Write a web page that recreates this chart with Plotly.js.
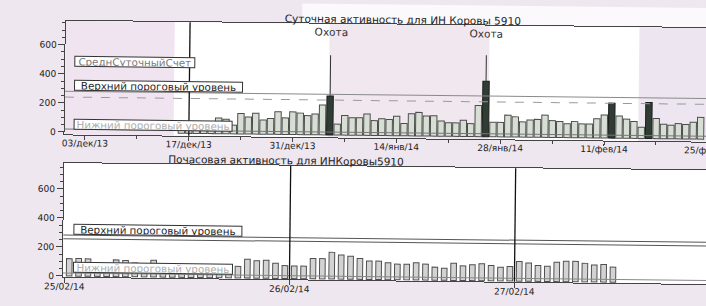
<!DOCTYPE html>
<html><head><meta charset="utf-8">
<script src="https://cdn.plot.ly/plotly-3.0.1.min.js"></script>
<style>
html,body{margin:0;padding:0;background:#efe7ef;overflow:hidden;width:706px;height:306px;}
#chart{width:760px;height:306px;transform:rotate(0.65deg);transform-origin:0 0;}
</style></head><body><div id="chart"></div>
<script>
// ---- daily activity (top chart) ----
const dailyStart = '2013-12-16';
const dailyValues = [40,42,40,44,45,108,100,60,
  141,117,143,98,108,155,114,156,148,131,143,205,268,75,135,120,121,147,102,116,111,134,85,152,162,138,
  140,105,93,93,111,89,214,382,100,100,150,139,105,118,123,153,116,111,96,111,96,96,132,159,241,153,132,116,77,248,
  139,100,93,105,100,116,150];
const heatDates = ['2014-01-05','2014-01-26','2014-02-12','2014-02-17'];
const whiskerDates = ['2014-01-05','2014-01-26'];
const whiskerLow = [268,382];
const whiskerHigh = [548,560];
const huntDates = ['2014-01-05','2014-01-26'];
const huntText = ['Охота','Охота'];
const dailyTickVals = ['2013-12-03','2013-12-17','2013-12-31','2014-01-14','2014-01-28','2014-02-11','2014-02-25'];
const dailyTickText = ['03/дек/13','17/дек/13','31/дек/13','14/янв/14','28/янв/14','11/фев/14','25/фев/14'];
const dailyMarkerDate = '2013-12-17';
const dailyUpper = 280, dailyMean = 240, dailyLower = 20;

// ---- hourly activity (bottom chart) ----
const hourlyStart = '2014-02-25 00:30';
const hourlyValues = [120,122,120,92,90,115,112,95,90,115,90,88,85,88,90,86,85,82,
  80,130,120,124,104,89,87,87,140,140,184,166,158,144,127,127,117,108,108,119,110,90,83,118,101,109,117,106,95,101,
  136,126,109,105,133,141,141,128,117,122,104];
const hourlyTickVals = ['2014-02-25','2014-02-26','2014-02-27'];
const hourlyTickText = ['25/02/14','26/02/14','27/02/14'];
const hourlyMarkerDates = ['2014-02-26','2014-02-27'];
const hourlyUpper = 282, hourlyMean = 257, hourlyLower = 20;

const yTickVals = [0,200,400,600];

const DAY = 86400000, HOUR = 3600000;
function dayStr(i){ return new Date(Date.parse(dailyStart+'T00:00:00Z') + i*DAY).toISOString().slice(0,10); }
const barColors = dailyValues.map((v,i)=> heatDates.includes(dayStr(i)) ? '#2f3d34' : '#d7dfd5');
const barLines = dailyValues.map((v,i)=> heatDates.includes(dayStr(i)) ? '#1e1e1e' : '#4d4d4d');

const wx=[], wy=[];
whiskerDates.forEach((d,i)=>{ wx.push(d,d,null); wy.push(whiskerLow[i],whiskerHigh[i],null); });

const traces = [
  {type:'bar', x0:dailyStart, dx:DAY, y:dailyValues, width:0.86*DAY, xaxis:'x', yaxis:'y',
   marker:{color:barColors, line:{color:barLines, width:1}}, hoverinfo:'skip'},
  {type:'scatter', mode:'lines', x:wx, y:wy, xaxis:'x', yaxis:'y', line:{color:'#333', width:1}, hoverinfo:'skip'},
  {type:'bar', x0:hourlyStart, dx:HOUR, y:hourlyValues, width:0.6*HOUR, xaxis:'x2', yaxis:'y2',
   marker:{color:'#d3d3d3', line:{color:'#505050', width:1}}, hoverinfo:'skip'}
];

const axisCommon = {showgrid:false, zeroline:false, showline:true, linecolor:'#444', linewidth:1, mirror:true,
  ticks:'outside', tickcolor:'#444', tickfont:{family:'DejaVu Sans', size:9, color:'#1a1a1a'}};

function hline(xr, yr, v, color, dash){
  return {type:'line', xref:xr+' domain', yref:yr, x0:0, x1:1, y0:v, y1:v, line:{color:color, width:1, dash:dash||'solid'}, layer:'above'};
}
function vline(xr, yr, d){
  return {type:'line', xref:xr, yref:yr+' domain', x0:d, x1:d, y0:0, y1:1, line:{color:'#111', width:1.3}, layer:'above'};
}
function band(x0,x1,c){
  return {type:'rect', xref:'paper', yref:'paper', x0:x0, x1:x1, y0:0.556, y1:1, fillcolor:c, line:{width:0}, layer:'below'};
}

const shapes = [
  {type:'rect', xref:'paper', yref:'paper', x0:0.35, x1:1.1, y0:1, y1:1.1, fillcolor:'#fbf9fb', line:{width:0}, layer:'below'},
  band(0,0.1615,'#efe4f0'), band(0.391,0.628,'#f0e7ef'), band(0.85,1,'#ede6f1'),
  hline('x','y',dailyUpper,'#8a8a8a'), hline('x','y',dailyMean,'#9a9a9a','dash'), hline('x','y',dailyLower,'#777'),
  vline('x','y',dailyMarkerDate),
  hline('x2','y2',hourlyUpper,'#555'), hline('x2','y2',hourlyMean,'#555'), hline('x2','y2',hourlyLower,'#888'),
  ...hourlyMarkerDates.map(d=>vline('x2','y2',d))
];

function box(text, x, y, w, color){
  return {xref:'paper', yref:'paper', x:x, y:y, xanchor:'left', yanchor:'top', text:text, showarrow:false,
    width:w, height:9, align:'center', valign:'middle', bgcolor:'#ffffff', bordercolor:'#333', borderwidth:1, borderpad:0,
    font:{family:'DejaVu Sans', size:10.3, color:color}};
}

const annotations = [
  {xref:'paper', yref:'paper', x:0.499, y:1.021, xanchor:'center', yanchor:'middle', showarrow:false,
   text:'Суточная активность для ИН Коровы 5910', font:{family:'DejaVu Sans', size:10.5, color:'#222'}},
  {xref:'paper', yref:'paper', x:0.329, y:0.466, xanchor:'center', yanchor:'middle', showarrow:false,
   text:'Почасовая активность для ИНКоровы5910', font:{family:'DejaVu Sans', size:10.5, color:'#222'}},
  ...huntDates.map((d,i)=>({xref:'x', yref:'y', x:d, y:708, xanchor:'center', yanchor:'middle', showarrow:false,
   text:huntText[i], font:{family:'DejaVu Sans', size:10.5, color:'#333'}})),
  box('СреднСуточныйСчет', 0.0129, 0.8635, 119, '#7a7a7a'),
  box('Верхний пороговый уровень', 0.0135, 0.7696, 167, '#1e1e1e'),
  box('Нижний пороговый уровень', 0.014, 0.6171, 157, '#adadad'),
  box('Верхний пороговый уровень', 0.0142, 0.2065, 167, '#1e1e1e'),
  box('Нижний пороговый уровень', 0.0148, 0.0579, 158, '#adadad')
];

const layout = {
  width:760, height:306,
  margin:{l:66, r:19, t:20.3, b:30, pad:0},
  paper_bgcolor:'#efe7ef', plot_bgcolor:'#ffffff',
  showlegend:false, bargap:0,
  font:{family:'DejaVu Sans', size:9, color:'#222'},
  xaxis: Object.assign({}, axisCommon, {domain:[0,1], anchor:'y', type:'date', ticklabelstandoff:-4,
    range:['2013-11-30 05:40','2014-03-01 06:10'], tickmode:'array', tickvals:dailyTickVals, ticktext:dailyTickText, ticklen:4,
    minor:{tickmode:'linear', tick0:'2013-12-03', dtick:7*DAY, ticks:'outside', ticklen:3, tickcolor:'#444', showgrid:false}}),
  yaxis: Object.assign({}, axisCommon, {domain:[0.556,1], anchor:'x', range:[-17,765], tickmode:'array', tickvals:yTickVals, ticklen:6,
    minor:{tickmode:'linear', tick0:0, dtick:50, ticks:'outside', ticklen:3, tickcolor:'#444', showgrid:false}}),
  xaxis2: Object.assign({}, axisCommon, {domain:[0,1], anchor:'y2', type:'date', ticklabelstandoff:-4,
    range:['2014-02-24 23:50','2014-02-27 23:50'], tickmode:'array', tickvals:hourlyTickVals, ticktext:hourlyTickText, ticklen:5}),
  yaxis2: Object.assign({}, axisCommon, {domain:[0,0.444], anchor:'x2', range:[-5,778], tickmode:'array', tickvals:yTickVals, ticklen:6,
    minor:{tickmode:'linear', tick0:0, dtick:50, ticks:'outside', ticklen:3, tickcolor:'#444', showgrid:false}}),
  shapes:shapes, annotations:annotations
};

Plotly.newPlot('chart', traces, layout, {staticPlot:true, displayModeBar:false});
</script></body></html>
